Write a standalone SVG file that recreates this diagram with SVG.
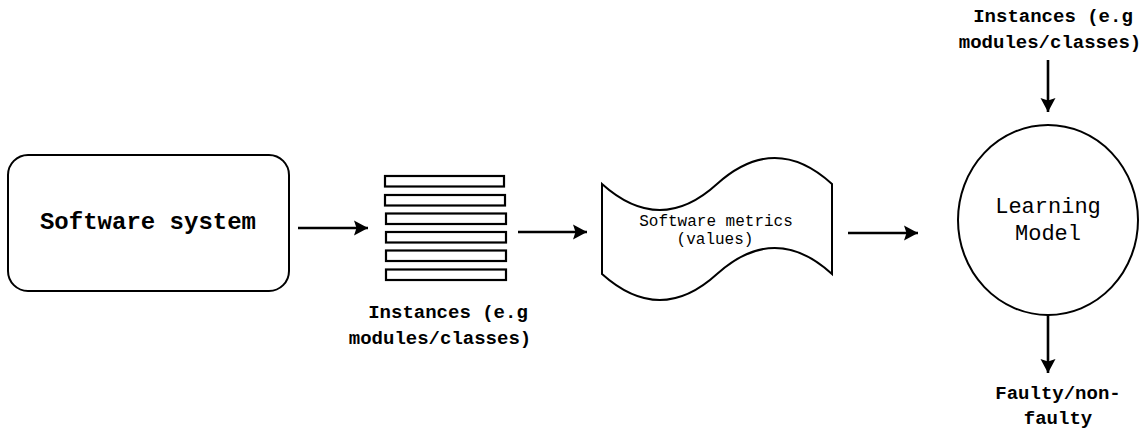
<svg xmlns="http://www.w3.org/2000/svg" width="1147" height="430" viewBox="0 0 1147 430">
  <style>
    .shape { fill: #ffffff; stroke: #000000; stroke-width: 2; }
    .bar { fill: #ffffff; stroke: #000000; stroke-width: 2.2; }
    .edge { fill: none; stroke: #000000; stroke-width: 2.6; }
    .mono { font-family: "Liberation Mono", "Courier New", monospace; fill: #000000; text-anchor: middle; }
    .label { font-size: 19px; font-weight: bold; }
  </style>
  <defs>
    <marker id="arrow" markerUnits="userSpaceOnUse" markerWidth="16" markerHeight="16" viewBox="0 0 16 16" refX="15" refY="8" orient="auto">
      <path d="M1,0.5 L15,8 L1,15.5 L3.5,8 Z" fill="#000000"/>
    </marker>
  </defs>

  <!-- Source system -->
  <g id="software-system">
    <rect class="shape" x="8" y="155" width="281" height="136" rx="20" ry="20"/>
    <text class="mono" x="148" y="229" font-size="24" font-weight="bold">Software system</text>
  </g>

  <!-- Stack of instances -->
  <g id="instances">
    <rect class="bar" x="385" y="176" width="119" height="10.5"/>
    <rect class="bar" x="385" y="195" width="120" height="10.5"/>
    <rect class="bar" x="386" y="213.5" width="120" height="10.5"/>
    <rect class="bar" x="386" y="232" width="120" height="10.5"/>
    <rect class="bar" x="386" y="250.5" width="120" height="10.5"/>
    <rect class="bar" x="386" y="269.5" width="120" height="10.5"/>
    <text class="mono label" x="448" y="318">Instances (e.g</text>
    <text class="mono label" x="440" y="344">modules/classes)</text>
  </g>

  <!-- Metrics tape -->
  <g id="software-metrics">
    <path class="shape" d="M602,184 Q660,236 717,184 Q775,132 832,184 L832,274 Q775,222 717,274 Q660,326 602,274 Z"/>
    <text class="mono" x="716" y="226" font-size="16">Software metrics</text>
    <text class="mono" x="715" y="244" font-size="16">(values)</text>
  </g>

  <!-- Classifier -->
  <g id="learning-model">
    <ellipse class="shape" cx="1048" cy="220" rx="90" ry="95"/>
    <text class="mono" x="1048" y="213" font-size="22">Learning</text>
    <text class="mono" x="1048" y="240" font-size="22">Model</text>
  </g>

  <g id="model-input">
    <text class="mono label" x="1053" y="22">Instances (e.g</text>
    <text class="mono label" x="1050" y="48">modules/classes)</text>
  </g>

  <g id="model-output">
    <text class="mono label" x="1058" y="399">Faulty/non-</text>
    <text class="mono label" x="1058" y="424">faulty</text>
  </g>

  <!-- Connectors -->
  <g id="connectors">
    <path class="edge" d="M298,228 L368,228" marker-end="url(#arrow)"/>
    <path class="edge" d="M518,232 L587,232" marker-end="url(#arrow)"/>
    <path class="edge" d="M848,233 L918,233" marker-end="url(#arrow)"/>
    <path class="edge" d="M1048,60 L1048,112" marker-end="url(#arrow)"/>
    <path class="edge" d="M1048,315 L1048,373" marker-end="url(#arrow)"/>
  </g>
</svg>
